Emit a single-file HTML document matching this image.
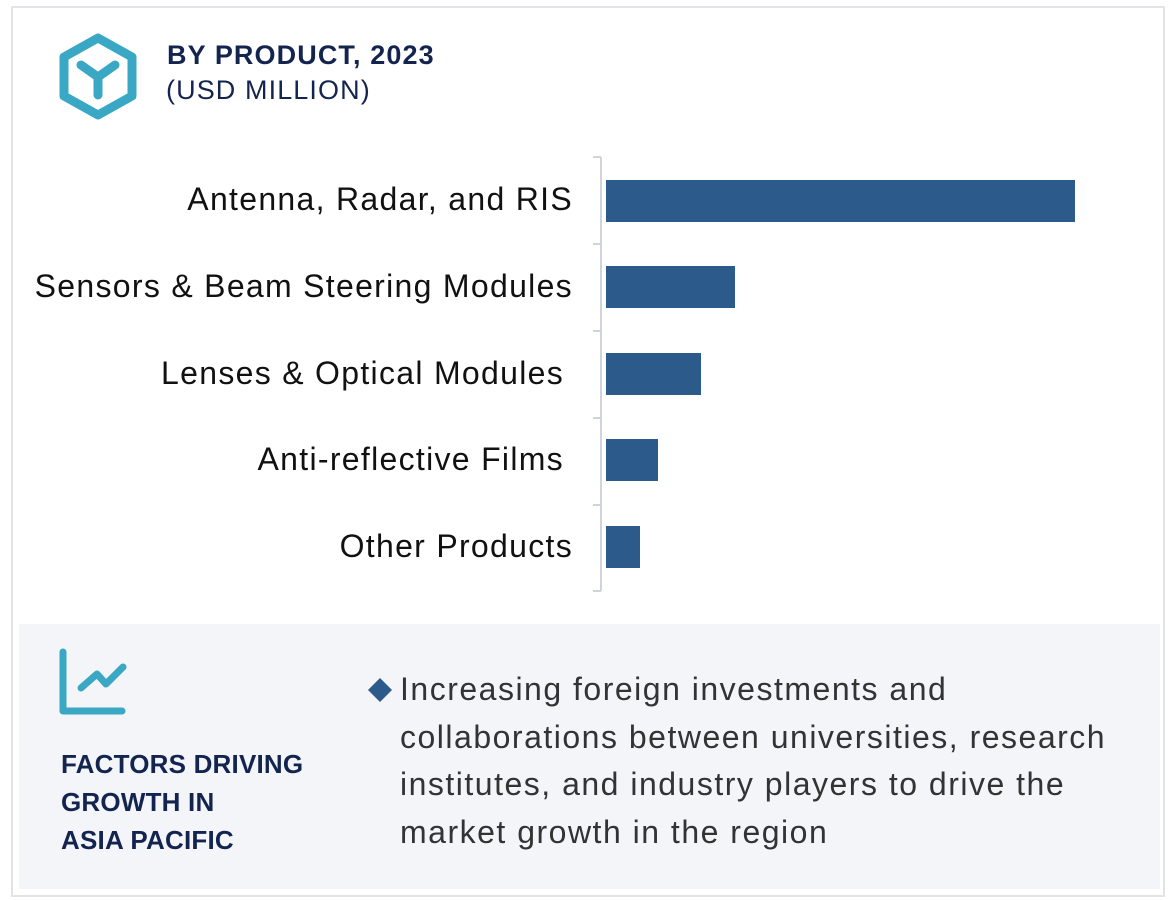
<!DOCTYPE html>
<html><head><style>
body{margin:0;width:1170px;height:900px;background:#fff;position:relative;font-family:"Liberation Sans",Arial,sans-serif;overflow:hidden}
.box{position:absolute;left:11px;top:6px;width:1150px;height:887px;border:2px solid #e2e4e8}
.t{position:absolute;white-space:nowrap}
.lab{position:absolute;font-size:32px;color:#111;text-align:right;white-space:nowrap;letter-spacing:1.3px}
.bar{position:absolute;left:606px;height:42px;background:#2c5a8a}
</style></head><body>
<div class="box"></div>
<svg style="position:absolute;left:0;top:0" width="1170" height="900">
<polygon points="98,38 132,57 132,96 98,115 64,96 64,57" fill="none" stroke="#3aa7c4" stroke-width="9" stroke-linejoin="round"/>
<path d="M81,65 L98,77 L115,65 M98,77 L98,95" fill="none" stroke="#3aa7c4" stroke-width="9" stroke-linecap="round" stroke-linejoin="round"/>
<line x1="601" y1="157" x2="601" y2="591" stroke="#d0d3d8" stroke-width="2"/>
<g stroke="#d0d3d8" stroke-width="2">
<line x1="593" y1="157" x2="601" y2="157"/><line x1="593" y1="244" x2="601" y2="244"/><line x1="593" y1="331" x2="601" y2="331"/><line x1="593" y1="418" x2="601" y2="418"/><line x1="593" y1="505" x2="601" y2="505"/><line x1="593" y1="591" x2="601" y2="591"/>
</g>
</svg>
<div class="t" style="left:167px;top:40px;font-size:27px;font-weight:bold;color:#13244f;letter-spacing:1.1px">BY PRODUCT, 2023</div>
<div class="t" style="left:166px;top:75px;font-size:27px;color:#13244f;letter-spacing:1.1px">(USD MILLION)</div>
<div class="lab" style="right:597px;top:181px">Antenna, Radar, and RIS</div>
<div class="lab" style="right:597px;top:268px">Sensors &amp; Beam Steering Modules</div>
<div class="lab" style="right:606px;top:355px">Lenses &amp; Optical Modules</div>
<div class="lab" style="right:606px;top:441px">Anti-reflective Films</div>
<div class="lab" style="right:597px;top:528px">Other Products</div>
<div class="bar" style="top:180px;width:469px"></div>
<div class="bar" style="top:266px;width:129px"></div>
<div class="bar" style="top:353px;width:95px"></div>
<div class="bar" style="top:439px;width:52px"></div>
<div class="bar" style="top:526px;width:34px"></div>
<div style="position:absolute;left:19px;top:624px;width:1141px;height:265px;background:#f3f5f9"></div>
<svg style="position:absolute;left:0;top:0" width="1170" height="900">
<path d="M63,652 L63,711 L122,711" fill="none" stroke="#3aa7c4" stroke-width="7" stroke-linecap="round" stroke-linejoin="round"/>
<path d="M81,688 L97,674 L106,684 L123,667" fill="none" stroke="#3aa7c4" stroke-width="7" stroke-linecap="round" stroke-linejoin="round"/>
<polygon points="380,678 392,690 380,702 368,690" fill="#2c5a8a"/>
</svg>
<div class="t" style="left:61px;top:745px;font-size:26px;font-weight:bold;color:#13244f;line-height:38px;letter-spacing:0.2px">FACTORS DRIVING<br>GROWTH IN<br>ASIA PACIFIC</div>
<div class="t" style="left:400px;top:666px;font-size:32px;color:#333;line-height:47.5px;letter-spacing:1.5px">Increasing foreign investments and<br>collaborations between universities, research<br>institutes, and industry players to drive the<br>market growth in the region</div>
</body></html>
